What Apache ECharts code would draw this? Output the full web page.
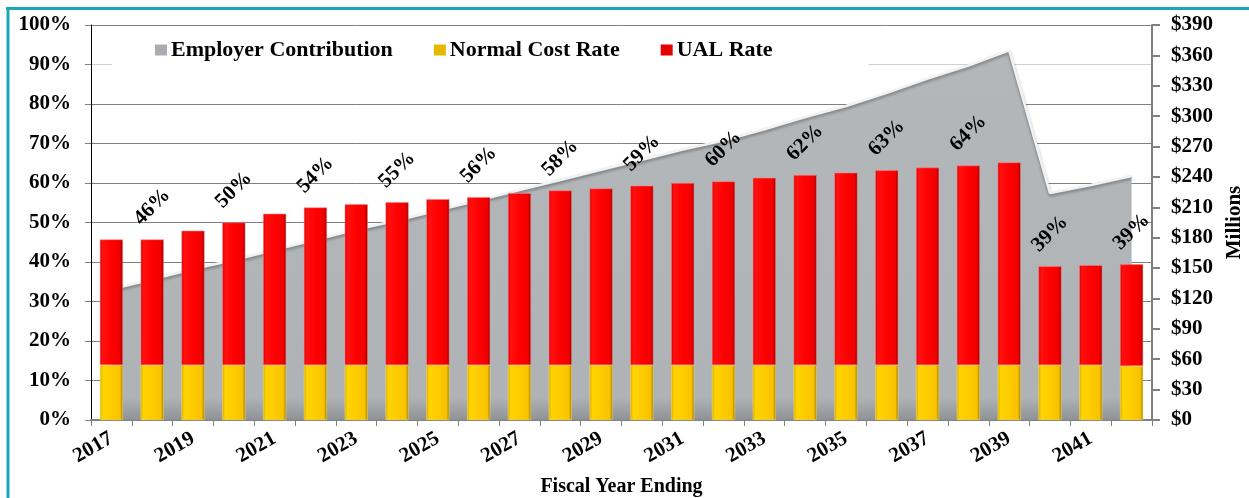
<!DOCTYPE html>
<html>
<head>
<meta charset="utf-8">
<script src="https://cdn.jsdelivr.net/npm/echarts@6/dist/echarts.min.js"></script>
<style>
html,body{margin:0;padding:0;background:#fff;}
#chart{width:1249px;height:498px;}
</style>
</head>
<body>
<div id="chart"></div>
<script>
const years = ['2017','2018','2019','2020','2021','2022','2023','2024','2025','2026','2027','2028','2029','2030','2031','2032','2033','2034','2035','2036','2037','2038','2039','2040','2041','2042'];
const normalCostRate = [13.9,13.9,13.9,13.9,13.9,13.9,13.9,13.9,13.9,13.9,13.9,13.9,13.9,13.9,13.9,13.9,13.9,13.9,13.9,13.9,13.9,13.9,13.9,13.9,13.9,13.7];
const totalRate = [45.7,45.7,47.9,50.0,52.2,53.8,54.6,55.1,55.9,56.4,57.4,58.1,58.6,59.3,60.0,60.4,61.3,62.0,62.6,63.2,63.9,64.4,65.2,38.9,39.2,39.4];
const employerContribution = [129,139,149,158,168,178,188,197,207,217,227,237,247,257,267,276,287,299,310,323,337,350,365,224,232,241];
const leftTicks = {min:0, max:100, interval:10};
const rightTicks = {min:0, max:390, interval:30};

const ualRate = totalRate.map((t,i)=> +(t - normalCostRate[i]).toFixed(1));
const labelPoints = totalRate.map((t,i)=> i % 2 === 1 ? t : null);

const FONT = "'Liberation Serif','Times New Roman',serif";
const chart = echarts.init(document.getElementById('chart'));

const yellowGrad = new echarts.graphic.LinearGradient(0,0,1,0,[
  {offset:0,color:'#d9a800'},{offset:0.12,color:'#ffd400'},{offset:0.5,color:'#ffcc00'},{offset:0.88,color:'#f7c200'},{offset:1,color:'#9c7400'}]);
const redGrad = new echarts.graphic.LinearGradient(0,0,1,0,[
  {offset:0,color:'#d40000'},{offset:0.12,color:'#ff1010'},{offset:0.5,color:'#ff0000'},{offset:0.88,color:'#f00000'},{offset:1,color:'#8c0000'}]);

const splitColors = ['#808080','#808080','#808080','#808080','#808080','#808080','#808080','#808080','#808080','#d0d0d0','#808080'];

chart.setOption({
  animation:false,
  backgroundColor:'#ffffff',
  textStyle:{fontFamily:FONT},
  graphic:[
    {type:'line', shape:{x1:6,y1:8.5,x2:1249,y2:8.5}, style:{stroke:'#17a9b7',lineWidth:3}, z:100},
    {type:'line', shape:{x1:8,y1:7,x2:8,y2:498}, style:{stroke:'#17a9b7',lineWidth:3}, z:100}
  ],
  legend:{
    left:112, top:33,
    padding:[6,96,6,43],
    backgroundColor:'#ffffff',
    itemGap:41, itemWidth:12, itemHeight:11, itemStyle:{borderWidth:0},
    textStyle:{fontFamily:FONT,fontWeight:'bold',fontSize:22,color:'#000',padding:[0,0,0,-1]},
    data:[
      {name:'Employer Contribution', icon:'rect', itemStyle:{color:'#a9adb1'}},
      {name:'Normal Cost Rate', icon:'rect', itemStyle:{color:'#e6b800'}},
      {name:'UAL Rate', icon:'rect', itemStyle:{color:'#e80000'}}
    ]
  },
  grid:{left:91,right:97,top:25,bottom:78,containLabel:false,outerBoundsMode:'none'},
  xAxis:{
    type:'category', data:years, boundaryGap:true,
    name:'Fiscal Year Ending', nameLocation:'middle', nameGap:57,
    nameTextStyle:{fontFamily:FONT,fontWeight:'bold',fontSize:20,color:'#000'},
    axisLine:{lineStyle:{color:'#808080',width:2}},
    axisTick:{show:true,interval:0,length:6,lineStyle:{color:'#808080'}},
    axisLabel:{interval:1,rotate:30,margin:17,fontFamily:FONT,fontWeight:'bold',fontSize:21,color:'#000'},
    splitLine:{show:false}
  },
  yAxis:[
    {type:'value', min:leftTicks.min, max:leftTicks.max, interval:leftTicks.interval, position:'left',
     axisLine:{show:true,lineStyle:{color:'#000',width:1}},
     axisTick:{show:true,length:6,lineStyle:{color:'#808080'}},
     axisLabel:{formatter:'{value}%',margin:20,fontFamily:FONT,fontWeight:'bold',fontSize:21,color:'#000'},
     splitLine:{show:true,lineStyle:{color:splitColors,width:1}}
    },
    {type:'value', min:rightTicks.min, max:rightTicks.max, interval:rightTicks.interval, position:'right',
     name:'Millions', nameLocation:'middle', nameGap:71, nameRotate:90,
     nameTextStyle:{fontFamily:FONT,fontWeight:'bold',fontSize:21,color:'#000'},
     axisLine:{show:true,lineStyle:{color:'#808080',width:2}},
     axisTick:{show:true,length:8,lineStyle:{color:'#808080',width:2}},
     axisLabel:{formatter:v=>'$'+v,margin:19,fontFamily:FONT,fontWeight:'bold',fontSize:21,color:'#000'},
     splitLine:{show:false}
    }
  ],
  series:[
    {name:'Employer Contribution', type:'line', yAxisIndex:1, data:employerContribution,
     symbol:'none', z:1,
     lineStyle:{color:'#f2f2f2',width:2.5,shadowColor:'rgba(0,0,0,0.35)',shadowBlur:3,shadowOffsetY:2},
     areaStyle:{color:new echarts.graphic.LinearGradient(0,0,0,1,[{offset:0,color:'#b3b7ba'},{offset:0.94,color:'#afb3b6'},{offset:1,color:'#8e9295'}]),opacity:1}
    },
    {name:'Normal Cost Rate', type:'bar', stack:'rate', yAxisIndex:0, data:normalCostRate,
     barWidth:23, z:3,
     itemStyle:{color:yellowGrad,borderColor:'#ffe566',borderWidth:0.5}
    },
    {name:'UAL Rate', type:'bar', stack:'rate', yAxisIndex:0, data:ualRate,
     barWidth:23, z:3,
     itemStyle:{color:redGrad,borderColor:'#ff8080',borderWidth:0.5}
    },
    {name:'labels', type:'scatter', yAxisIndex:0, data:labelPoints, symbolSize:0, z:5,
     silent:true, itemStyle:{opacity:1},
     label:{show:true,position:'inside',offset:[23,-23],rotate:45,
       formatter:p=>Math.round(p.value)+'%',
       fontFamily:FONT,fontWeight:'bold',fontSize:21,color:'#000',opacity:1}
    }
  ]
});
</script>
</body>
</html>
